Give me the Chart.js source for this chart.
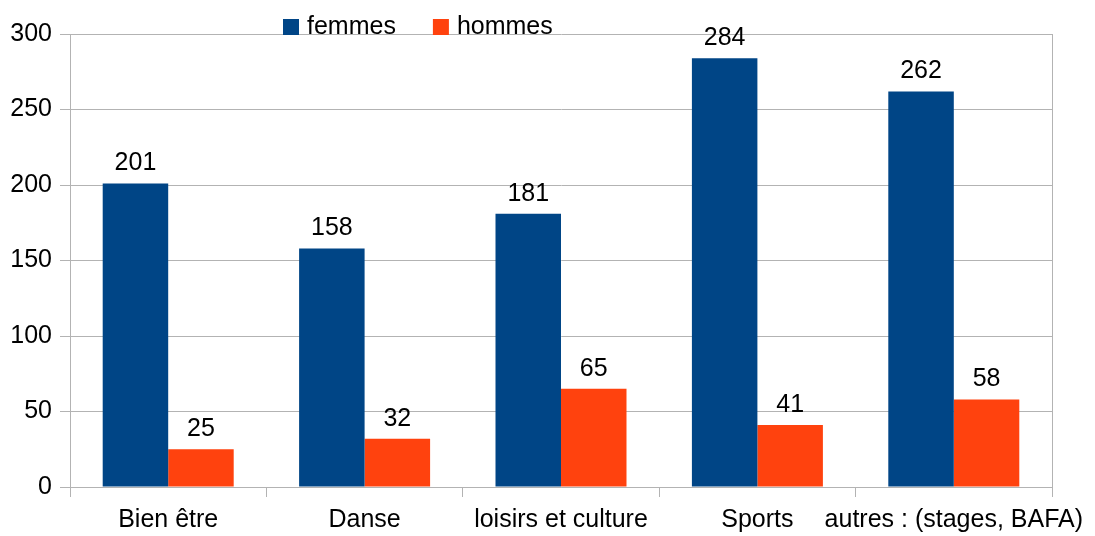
<!DOCTYPE html>
<html lang="fr">
<head>
  <meta charset="UTF-8">
  <title>Femmes / hommes par activité</title>
  <script src="https://cdn.jsdelivr.net/npm/chart.js"></script>
  <style>
    html, body { margin: 0; padding: 0; background: #fff; }
    #wrap { width: 1095px; height: 536px; }
  </style>
</head>
<body>
  <div id="wrap"><canvas id="chart"></canvas></div>
  <script>
    // data
    const categories = ['Bien être', 'Danse', 'loisirs et culture', 'Sports', 'autres : (stages, BAFA)'];
    const femmes = [201, 158, 181, 284, 262];
    const hommes = [25, 32, 65, 41, 58];
    const yTicks = [0, 50, 100, 150, 200, 250, 300];

    const FONT = '"Liberation Sans", Arial, sans-serif';
    const FSIZE = 25;
    const gridGray = '#b3b3b3';

    // value labels above each bar
    const valueLabels = {
      id: 'valueLabels',
      afterDatasetsDraw(chart) {
        const ctx = chart.ctx;
        ctx.save();
        ctx.font = FSIZE + 'px ' + FONT;
        ctx.fillStyle = '#000';
        ctx.textAlign = 'center';
        ctx.textBaseline = 'alphabetic';
        chart.data.datasets.forEach((ds, i) => {
          chart.getDatasetMeta(i).data.forEach((bar, j) => {
            ctx.fillText(String(ds.data[j]), bar.x, bar.y - 13);
          });
        });
        ctx.restore();
      }
    };

    // legend drawn over the top of the plot, like the original
    const topLegend = {
      id: 'topLegend',
      afterDraw(chart) {
        const ctx = chart.ctx;
        ctx.save();
        ctx.font = FSIZE + 'px ' + FONT;
        ctx.textBaseline = 'middle';
        let x = 283;
        const y = 27;
        chart.data.datasets.forEach(ds => {
          ctx.fillStyle = ds.backgroundColor;
          ctx.fillRect(x, 19, 16, 16);
          ctx.fillStyle = '#000';
          ctx.fillText(ds.label, x + 24, y);
          x += 24 + ctx.measureText(ds.label).width + 37;
        });
        ctx.restore();
      }
    };

    new Chart(document.getElementById('chart'), {
      type: 'bar',
      data: {
        labels: categories,
        datasets: [
          { label: 'femmes', data: femmes, backgroundColor: '#004586' },
          { label: 'hommes', data: hommes, backgroundColor: '#ff420e' }
        ]
      },
      options: {
        responsive: true,
        maintainAspectRatio: false,
        animation: false,
        layout: { padding: { left: 0, right: 43, top: 34, bottom: 0 } },
        datasets: { bar: { categoryPercentage: 0.667, barPercentage: 1 } },
        plugins: {
          legend: { display: false },
          tooltip: { enabled: false }
        },
        scales: {
          x: {
            grid: {
              offset: true,
              drawOnChartArea: true,
              tickLength: 10,
              tickColor: gridGray,
              color: c => (c.index === undefined ? gridGray : 'rgba(0,0,0,0)')
            },
            border: { color: gridGray },
            ticks: {
              color: '#000',
              font: { family: FONT, size: FSIZE },
              padding: 8,
              maxRotation: 0,
              minRotation: 0,
              autoSkip: false
            },
            afterFit(scale) {
              scale.paddingLeft = 0;
              scale.paddingRight = 0;
              scale.height = 49;
            }
          },
          y: {
            min: 0,
            max: 300,
            afterBuildTicks(scale) {
              scale.ticks = yTicks.map(v => ({ value: v }));
            },
            afterFit(scale) {
              scale.width = 70;
            },
            grid: { color: gridGray, tickLength: 10, tickColor: gridGray },
            border: { color: gridGray },
            ticks: {
              color: '#000',
              font: { family: FONT, size: FSIZE },
              padding: 8
            }
          }
        }
      },
      plugins: [valueLabels, topLegend]
    });
  </script>
</body>
</html>
